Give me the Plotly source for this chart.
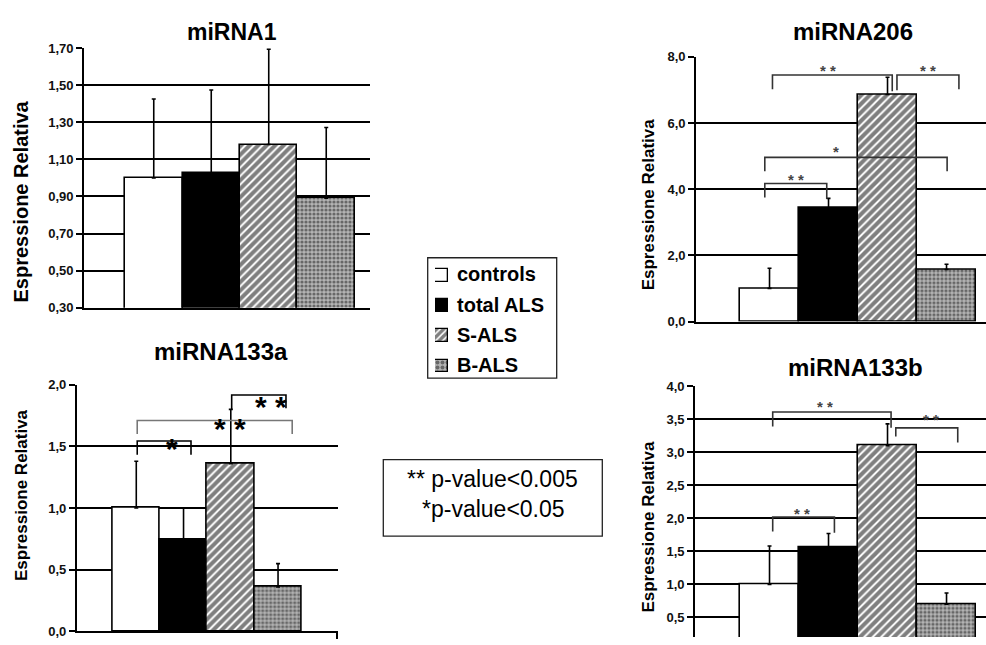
import plotly.graph_objects as go

# ---------------------------------------------------------------- data
groups = ["controls", "total ALS", "S-ALS", "B-ALS"]

mirna1_mean = [1.00, 1.026, 1.18, 0.891]
mirna1_err = [0.425, 0.448, 0.513, 0.381]

mirna206_mean = [1.00, 3.43, 6.86, 1.57]
mirna206_err = [0.61, 0.29, 0.52, 0.16]

mirna133a_mean = [1.00, 0.74, 1.36, 0.36]
mirna133a_err = [0.38, 0.26, 0.44, 0.19]

mirna133b_mean = [1.00, 1.56, 3.10, 0.70]
mirna133b_err = [0.58, 0.21, 0.33, 0.17]

# significance brackets: (x_left, x_right, y_bar, y_left_end, y_right_end,
#                         label, label_x, label_y, colour)
sig206 = [
    (0.05, 2.08, 7.45, 7.02, 6.96, "* *", 0.99, 7.70, "#333"),
    (2.16, 3.21, 7.45, 6.99, 7.02, "* *", 2.69, 7.70, "#333"),
    (-0.08, 3.01, 4.96, 4.54, 4.54, "*", 1.13, 5.25, "#333"),
    (-0.08, 0.97, 4.17, 3.75, 3.70, "* *", 0.45, 4.42, "#333"),
]
sig133a = [
    (0.02, 1.158, 1.544, 1.433, 1.433, "*", 0.75, 1.545, "#000"),
    (0.02, 3.30, 1.71, 1.60, 1.60, "* *", 1.983, 1.705, "#777"),
    (2.019, 3.168, 1.916, 1.797, 1.81, "* *", 2.857, 1.889, "#000"),
]
sig133b = [
    (0.054, 2.06, 3.61, 3.39, 3.37, "* *", 0.935, 3.75, "#333"),
    (2.14, 3.19, 3.37, 3.24, 3.15, "* *", 2.73, 3.55, "#333"),
    (0.054, 1.10, 2.02, 1.80, 1.78, "* *", 0.554, 2.13, "#333"),
]

Y_TITLE = "Espressione Relativa"
PVAL_LINES = ["** p-value<0.005", "*p-value<0.05"]

# ---------------------------------------------------------------- styling
W, H = 986, 645
FONT = "Liberation Sans, Arial, sans-serif"


def fx(px):
    return px / W


def fy(py):
    return 1 - py / H


group_style = {
    "controls": dict(color="white"),
    "total ALS": dict(color="black"),
    "S-ALS": dict(color="white",
                  pattern=dict(shape="/", fgcolor="black", bgcolor="white",
                               size=6, solidity=0.68)),
    "B-ALS": dict(color="#999999",
                  pattern=dict(shape=".", fgcolor="#1a1a1a", bgcolor="#b4b4b4",
                               size=4, solidity=0.5)),
}

panels = [
    dict(title="miRNA1", mean=mirna1_mean, err=mirna1_err, sig=[],
         xdom=(84, 370), ydom=(42, 308), yrange=(0.3, 1.7), tick0=0.3,
         dtick=0.2, fmt=".2f", xrange=(-1.213, 3.761),
         title_pos=(232, 25.8), title_size=23,
         ylab_pos=(21.3, 198.8), ylab_size=20, bottom_line=True,
         star_size=14),
    dict(title="miRNA206", mean=mirna206_mean, err=mirna206_err, sig=sig206,
         xdom=(696, 986), ydom=(51, 322), yrange=(0, 8), tick0=0,
         dtick=2, fmt=".1f", xrange=(-1.246, 3.669),
         title_pos=(852.5, 24.7), title_size=24,
         ylab_pos=(648.3, 201.7), ylab_size=17, bottom_line=True,
         star_size=15),
    dict(title="miRNA133a", mean=mirna133a_mean, err=mirna133a_err,
         sig=sig133a,
         xdom=(76.7, 338), ydom=(386.7, 639.3), yrange=(0, 2), tick0=0,
         dtick=0.5, fmt=".1f", xrange=(-1.261, 4.269),
         title_pos=(220.8, 352.5), title_size=24,
         ylab_pos=(20.8, 499.8), ylab_size=17, bottom_line=True,
         star_size=30),
    dict(title="miRNA133b", mean=mirna133b_mean, err=mirna133b_err,
         sig=sig133b,
         xdom=(695, 986), ydom=(388.3, 645), yrange=(0.203, 4.0), tick0=0,
         dtick=0.5, fmt=".1f", xrange=(-1.263, 3.669),
         title_pos=(855.8, 369.2), title_size=24,
         ylab_pos=(648.8, 532.2), ylab_size=17, bottom_line=False,
         star_size=15),
]

fig = go.Figure()
shapes = []
annotations = []

for k, p in enumerate(panels, start=1):
    xa = "x" if k == 1 else f"x{k}"
    ya = "y" if k == 1 else f"y{k}"
    for i, g in enumerate(groups):
        st = group_style[g]
        marker = dict(color=st["color"], line=dict(color="black", width=1.6))
        if "pattern" in st:
            marker["pattern"] = st["pattern"]
        fig.add_trace(go.Bar(
            x=[i], y=[p["mean"][i]], width=1, name=g, legendgroup=g,
            showlegend=False, marker=marker, xaxis=xa, yaxis=ya,
            error_y=dict(type="data", symmetric=False,
                         array=[p["err"][i]], arrayminus=[0],
                         color="black", thickness=1.6, width=2),
        ))

    axkey = "" if k == 1 else str(k)
    xlay = dict(domain=[fx(p["xdom"][0]), fx(p["xdom"][1])],
                range=list(p["xrange"]), showgrid=False, zeroline=False,
                showticklabels=False, anchor=ya,
                showline=p["bottom_line"], linecolor="black", linewidth=1.6)
    if k == 3:
        xlay.update(ticks="outside", tickvals=[p["xrange"][1] - 0.02],
                    ticklen=6, tickwidth=1.5, tickcolor="black")
    else:
        xlay.update(ticks="")
    fig.update_layout({f"xaxis{axkey}": xlay})

    fig.update_layout({f"yaxis{axkey}": dict(
        domain=[fy(p["ydom"][1]), fy(p["ydom"][0])],
        range=list(p["yrange"]), tick0=p["tick0"], dtick=p["dtick"],
        tickformat=p["fmt"], showgrid=True, gridcolor="black", gridwidth=1.7,
        zeroline=False, showline=True, linecolor="black", linewidth=1.6,
        ticks="outside", ticklen=6, tickwidth=1.6, tickcolor="black",
        tickfont=dict(family=FONT, size=13, color="#111", weight="bold"),
        anchor=xa,
    )})

    # panel title
    annotations.append(dict(
        x=fx(p["title_pos"][0]), y=fy(p["title_pos"][1]), xref="paper",
        yref="paper", text=p["title"], showarrow=False, xanchor="center",
        yanchor="middle",
        font=dict(family=FONT, size=p["title_size"], color="black",
                  weight="bold")))
    # y-axis title
    annotations.append(dict(
        x=fx(p["ylab_pos"][0]), y=fy(p["ylab_pos"][1]), xref="paper",
        yref="paper", text=Y_TITLE, showarrow=False, textangle=-90,
        xanchor="center", yanchor="middle",
        font=dict(family=FONT, size=p["ylab_size"], color="black",
                  weight="bold")))

    # significance brackets with their stars
    for (x0, x1, yb, yl, yr, lab, lx, ly, col) in p["sig"]:
        shapes.append(dict(
            type="path", xref=xa, yref=ya,
            path=f"M {x0},{yl} L {x0},{yb} L {x1},{yb} L {x1},{yr}",
            line=dict(color=col, width=1.6)))
        s = p["star_size"]
        big = s > 20
        annotations.append(dict(
            x=lx, y=ly, xref=xa, yref=ya, text=lab, showarrow=False,
            xanchor="center", yanchor="middle", yshift=-0.26 * s,
            font=dict(family=FONT, size=s,
                      color="black" if big else "#444",
                      weight="bold")))

# ---------------------------------------------------------------- legend
leg_centers_px = [274.5, 306, 337, 367.5]
for i, g in enumerate(groups):
    st = group_style[g]
    marker = dict(color=st["color"], line=dict(color="black", width=1.3))
    if "pattern" in st:
        marker["pattern"] = dict(st["pattern"], size=5)
    fig.add_trace(go.Bar(
        y=[i], x=[1], base=[0], orientation="h", width=0.42, name=g,
        showlegend=False, marker=marker, xaxis="x5", yaxis="y5",
        hoverinfo="skip"))
    annotations.append(dict(
        x=fx(455), y=fy(leg_centers_px[i] - 1), xref="paper", yref="paper",
        text=g, showarrow=False, xanchor="left", yanchor="middle",
        font=dict(family=FONT, size=20, color="black", weight="bold")))

fig.update_layout(
    xaxis5=dict(domain=[fx(435), fx(448)], range=[0, 1], visible=False,
                anchor="y5"),
    yaxis5=dict(domain=[fy(383), fy(259)], range=[3.5, -0.5], visible=False,
                anchor="x5"),
)
shapes.append(dict(type="rect", xref="paper", yref="paper",
                   x0=fx(427.7), x1=fx(556.7), y0=fy(380), y1=fy(256.7),
                   line=dict(color="#222", width=1.3)))

# p-value key
shapes.append(dict(type="rect", xref="paper", yref="paper",
                   x0=fx(383.3), x1=fx(602.3), y0=fy(541.7), y1=fy(463.3),
                   line=dict(color="#222", width=1.3)))
for txt, (cx, cy) in zip(PVAL_LINES, [(492.2, 483.7), (493.3, 513.7)]):
    annotations.append(dict(
        x=fx(cx), y=fy(cy), xref="paper", yref="paper", text=txt,
        showarrow=False, xanchor="center", yanchor="middle",
        font=dict(family=FONT, size=23, color="black")))

fig.update_layout(
    width=W, height=H, margin=dict(l=0, r=0, t=0, b=0),
    paper_bgcolor="white", plot_bgcolor="white",
    barmode="overlay", bargap=0, showlegend=False,
    separators=",.", shapes=shapes, annotations=annotations,
    font=dict(family=FONT, color="black"),
)

fig.write_html("out.html")
